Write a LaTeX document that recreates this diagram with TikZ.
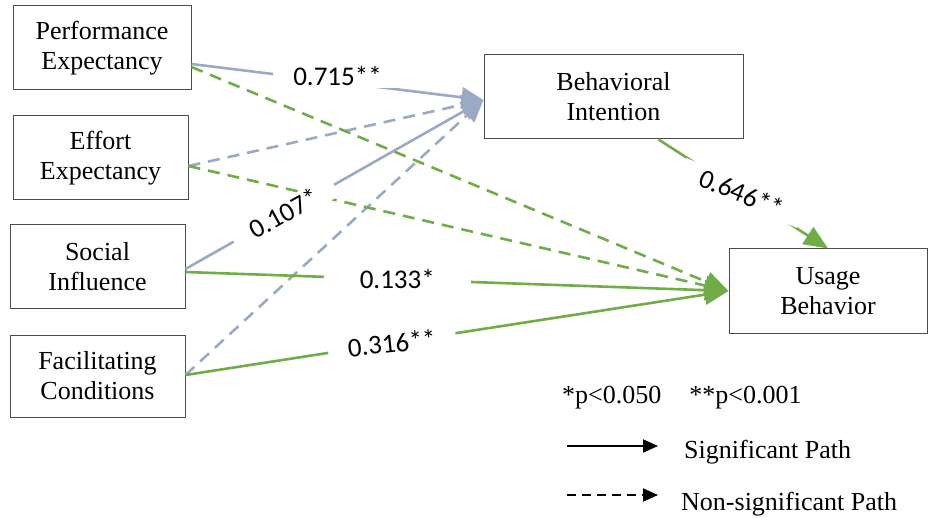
\documentclass[tikz,border=0pt]{standalone}
\usepackage{fontspec}
\setmainfont{Liberation Serif}
\newfontfamily\labelfont{Carlito}
\usepackage{xcolor}
\usetikzlibrary{positioning,arrows.meta}
\definecolor{pathgray}{HTML}{9AAAC4}
\definecolor{pathgreen}{HTML}{70AD47}

\begin{document}
\begin{tikzpicture}[x=1pt,y=-1pt,
    construct/.style={draw=black!70, line width=1pt, rectangle, minimum height=84pt, align=center, font=\fontsize{26}{30}\selectfont},
    graypath/.style={draw=pathgray, line width=2.6pt, -{Triangle[length=22pt,width=20pt,fill=pathgray]}},
    greenpath/.style={draw=pathgreen, line width=2.6pt, -{Triangle[length=24pt,width=20pt,fill=pathgreen]}},
    nonsig/.style={dash pattern=on 12pt off 8pt},
    coef/.style={fill=white, font=\labelfont\fontsize{27}{27}\selectfont, inner ysep=2pt, inner xsep=20pt},
    keytext/.style={font=\fontsize{26}{30}\selectfont, anchor=base west, inner sep=0pt},
    keyline/.style={draw=black, line width=2pt, -{Triangle[length=15pt,width=13pt]}}]
    \useasboundingbox (0,0) rectangle (928,518);

    % constructs
    \node (pe) [construct, minimum width=178pt] at (102,48) {Performance\\Expectancy};
    \node (ee) [construct, minimum width=175pt, below=25pt of pe, xshift=-1.5pt] {Effort\\Expectancy};
    \node (si) [construct, minimum width=175pt, below=24pt of ee, xshift=-3pt] {Social\\Influence};
    \node (fc) [construct, minimum width=175pt, minimum height=82pt, below=25pt of si] {Facilitating\\Conditions};
    \node (bi) [construct, minimum width=259pt] at (613.5,97) {Behavioral\\Intention};
    \node (ub) [construct, minimum width=198pt] at (828,291) {Usage\\Behavior};

    % non-significant paths
    \draw[graypath, nonsig] ([yshift=-8pt]ee.east) -- ([yshift=-3pt]bi.west);
    \draw[graypath, nonsig] ([yshift=1pt]fc.east) -- ([yshift=-3pt]bi.west);
    \draw[greenpath, nonsig] ([yshift=-19pt]pe.east) -- (ub.west);
    \draw[greenpath, nonsig] ([yshift=-8pt]ee.east) -- (ub.west);

    % significant paths
    \draw[graypath] ([yshift=-16pt]pe.east) -- node[coef, pos=0.5, yshift=6pt] {0.715**} ([yshift=-3pt]bi.west);
    \draw[graypath] ([yshift=-2pt]si.east) -- node[coef, pos=0.33, rotate=29] {0.107*} ([yshift=-3pt]bi.west);
    \draw[greenpath] ([yshift=-5pt]si.east) -- node[coef, pos=0.39, inner xsep=36pt] {0.133*} (ub.west);
    \draw[greenpath] ([yshift=1pt]fc.east) -- node[coef, pos=0.38, rotate=6] {0.316**} (ub.west);
    \draw[greenpath] ([xshift=45pt]bi.south) -- node[coef, pos=0.49, rotate=-22] {0.646**} (ub.north);

    % key
    \node (pvals) [keytext] at (562,403) {*p<0.050\hspace{28pt}**p<0.001};
    \node (sigtext) [keytext] at (684,458) {Significant Path};
    \node (nonsigtext) [keytext] at (681,510) {Non-significant Path};
    \coordinate (sigA) at (567,446);
    \coordinate (sigB) at (658,446);
    \coordinate (nonsigA) at (567,495);
    \coordinate (nonsigB) at (658,495);
    \draw[keyline] (sigA) -- (sigB);
    \draw[keyline, dash pattern=on 9pt off 6pt] (nonsigA) -- (nonsigB);
\end{tikzpicture}
\end{document}
